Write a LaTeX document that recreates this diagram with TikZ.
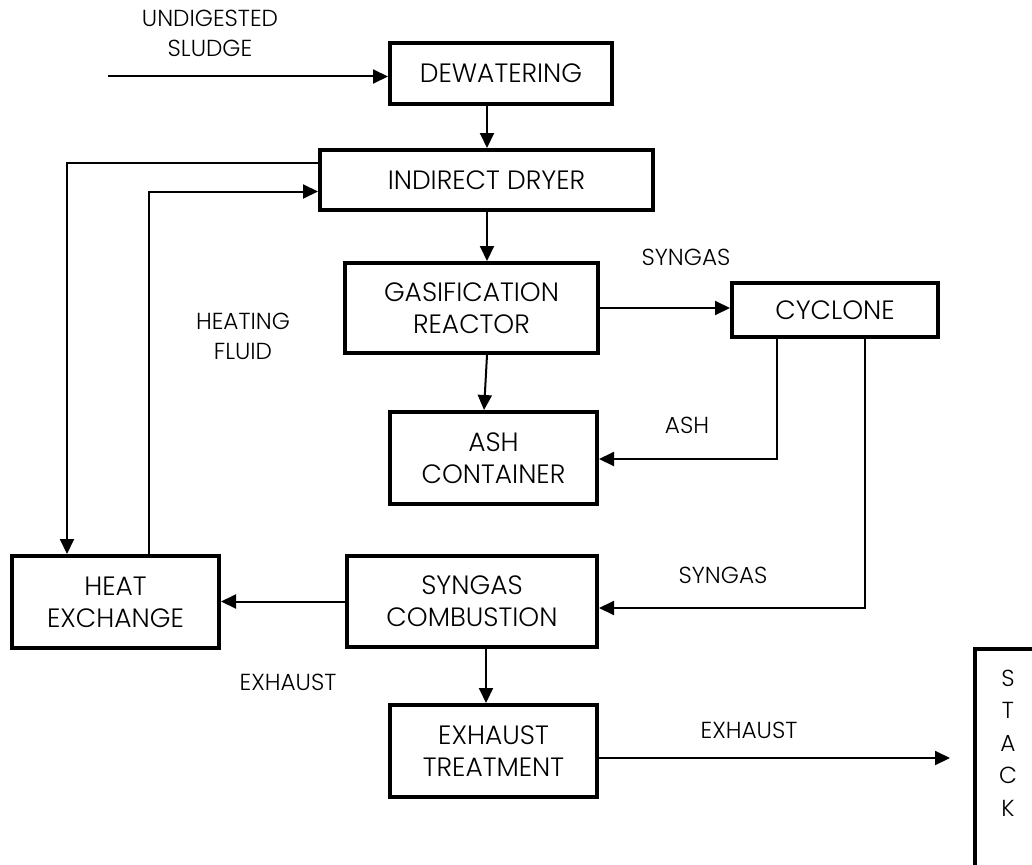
\documentclass[tikz,border=0pt]{standalone}
\usepackage{fontspec}
\setmainfont{Poppins}[UprightFont={* Light}]
\usetikzlibrary{arrows.meta,calc}
\tikzset{
  blk/.style={draw, line width=4pt, rectangle, inner sep=0pt, align=center,
    font=\fontsize{26.5}{32}\selectfont},
  lbl/.style={align=center, inner sep=0pt, font=\fontsize{23.2}{29.5}\selectfont},
  flow/.style={line width=2pt, -{Triangle[length=15pt,width=14pt]}},
  pipe/.style={line width=1.8pt}
}
\begin{document}
\begin{tikzpicture}[x=1pt,y=-1pt]
\useasboundingbox (0,0) rectangle (1032,864);
\clip (0,0) rectangle (1032,864);
% boxes
\node[blk, minimum width=222pt, minimum height=61pt] (dew) at (501,73.5) {DEWATERING};
\node[blk, minimum width=333pt, minimum height=60pt] (dry) at (486.5,180) {INDIRECT DRYER};
\node[blk, minimum width=253pt, minimum height=90pt] (gas) at (471.5,308) {GASIFICATION\\REACTOR};
\node[blk, minimum width=207pt, minimum height=92pt] (ash) at (493.5,458) {ASH\\CONTAINER};
\node[blk, minimum width=206pt, minimum height=54pt] (cyc) at (835,310) {CYCLONE};
\node[blk, minimum width=207pt, minimum height=92pt] (hx) at (115.5,602) {HEAT\\EXCHANGE};
\node[blk, minimum width=250pt, minimum height=91pt] (comb) at (472,601.5) {SYNGAS\\COMBUSTION};
\node[blk, minimum width=207pt, minimum height=92pt] (ext) at (493.5,751) {EXHAUST\\TREATMENT};
\node[draw, line width=4pt, rectangle, inner sep=0pt, anchor=north west,
  minimum width=120pt, minimum height=260pt] (stack) at (973,647) {};
\node[lbl, font=\fontsize{23.2}{32.5}\selectfont] (stacktxt) at (1008,743) {S\\T\\A\\C\\K};
% helper coordinates
\coordinate (src) at (108,76.5);
\coordinate (x1) at (487,0);
\coordinate (x2) at (484,0);
\coordinate (x3) at (486,0);
\coordinate (c1) at (67,163);
\coordinate (c2) at (149,191.5);
\coordinate (c4) at (777,459);
\coordinate (c5) at (865,608);
\coordinate (stackin) at (950,758);
% connectors
\draw[flow] (src) -- (src -| dew.west);
\draw[flow] (x1 |- dew.south) -- (x1 |- dry.north);
\draw[flow] (x1 |- dry.south) -- (x1 |- gas.north);
\draw[flow] (x1 |- gas.south) -- (x2 |- ash.north);
\draw[flow] (gas.east) -- (gas.east -| cyc.west);
\draw[flow] (c1 -| dry.west) -- (c1) -- (c1 |- hx.north);
\draw[flow] (c2 |- hx.north) -- (c2) -- (c2 -| dry.west);
\draw[flow] (c4 |- cyc.south) -- (c4) -- (c4 -| ash.east);
\draw[flow] (c5 |- cyc.south) -- (c5) -- (c5 -| comb.east);
\draw[flow] (comb.west) -- (comb.west -| hx.east);
\draw[flow] (x3 |- comb.south) -- (x3 |- ext.north);
\draw[flow] (stackin -| ext.east) -- (stackin);
% labels
\node[lbl] (lsludge) at (210,33.5) {UNDIGESTED\\SLUDGE};
\node[lbl] (lsyn1) at (686,257) {SYNGAS};
\node[lbl] (lheat) at (243,336.5) {HEATING\\FLUID};
\node[lbl] (lash) at (687,425) {ASH};
\node[lbl] (lsyn2) at (723,575) {SYNGAS};
\node[lbl] (lex1) at (288,682) {EXHAUST};
\node[lbl] (lex2) at (749,730) {EXHAUST};
\end{tikzpicture}
\end{document}
